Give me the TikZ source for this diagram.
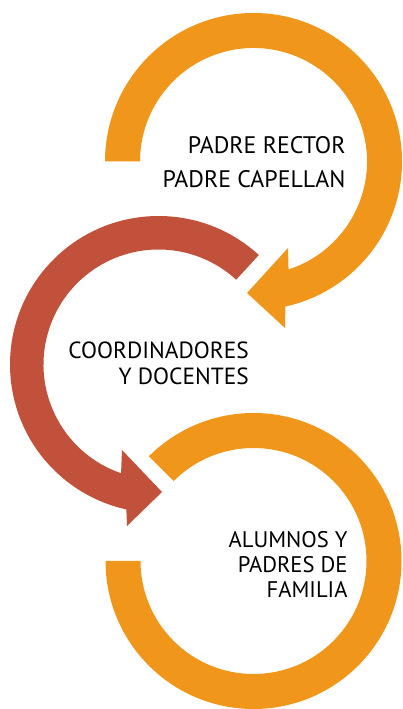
\documentclass[tikz,border=0pt]{standalone}
\usepackage{fontspec}
\setmainfont{PT Sans}
\definecolor{ringorange}{RGB}{240,150,27}
\definecolor{ringred}{RGB}{193,81,58}

\begin{document}
\begin{tikzpicture}[x=1pt, y=1pt,
    label/.style={align=right, inner sep=0pt, anchor=north east}]

\useasboundingbox (0,0) rectangle (402,709);

\coordinate (c1) at (253.5,547.5);
\coordinate (c2) at (158.5,344.5);
\coordinate (c3) at (253.5,148);

% top arrow
\begin{scope}[shift={(c1)}]
\fill[ringorange] (180:148.5) arc[start angle=180, end angle=-77.6, radius=148.5]
  -- (31.5,-166.5) -- (-6.5,-131.5) -- (34.5,-86.5)
  -- (-72:113.5) arc[start angle=-72, end angle=180, radius=113.5] -- cycle;
\end{scope}

% middle arrow
\begin{scope}[shift={(c2)}]
\fill[ringred] (47.5:148.5) arc[start angle=47.5, end angle=257.5, radius=148.5]
  -- (-31.5,-161.5) -- (3.5,-127.5) -- (-36.5,-85.5)
  -- (251:115) arc[start angle=251, end angle=47.5, radius=115] -- cycle;
\end{scope}

% bottom ring
\begin{scope}[shift={(c3)}]
\fill[ringorange] (180:148) arc[start angle=180, end angle=495, radius=148]
  -- (135:113) arc[start angle=495, end angle=180, radius=113] -- cycle;
\end{scope}

\node[label, font=\fontsize{23.9}{33.4}\selectfont] (t1) at (345.7,572.3) {PADRE RECTOR\\PADRE CAPELLAN};
\node[label, font=\fontsize{23.4}{26}\selectfont] (t2) at (249,367.8) {COORDINADORES\\Y DOCENTES};
\node[label, font=\fontsize{22.6}{25}\selectfont] (t3) at (347.7,177.5) {ALUMNOS Y\\PADRES DE\\FAMILIA};
\end{tikzpicture}
\end{document}
